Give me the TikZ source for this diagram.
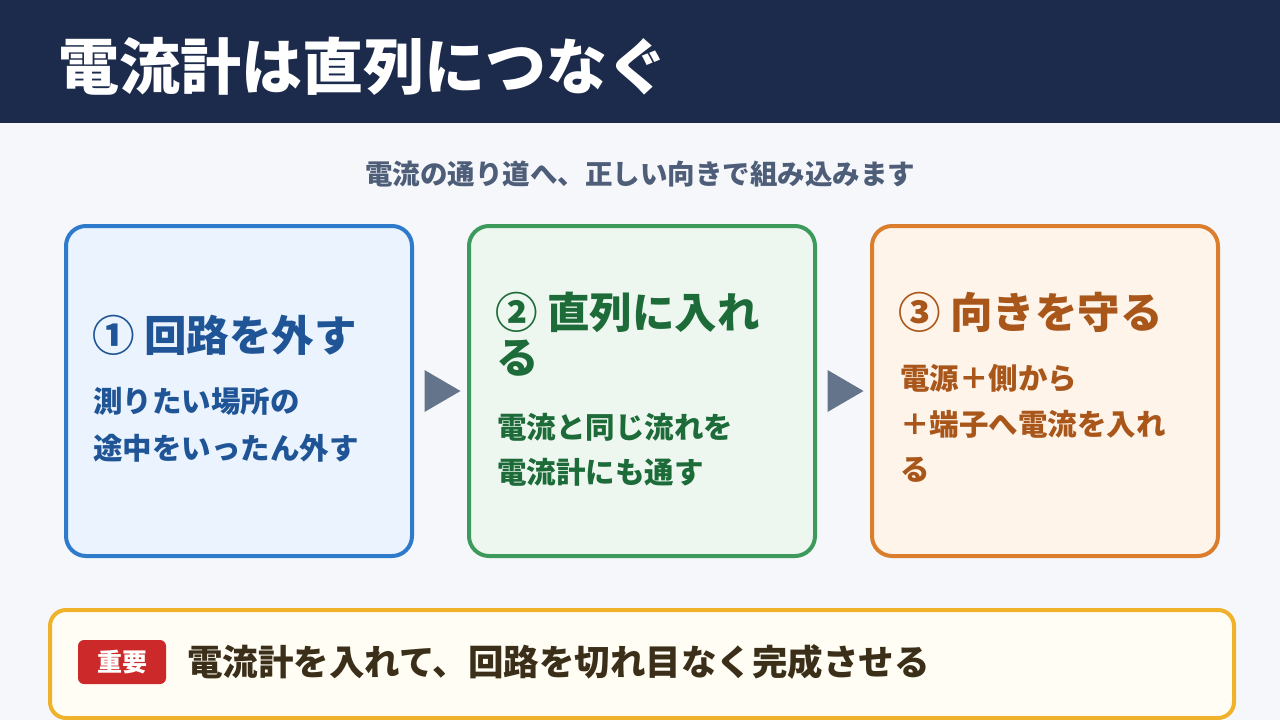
\documentclass[tikz,border=0pt]{standalone}
\usepackage{fontspec}
\setmainfont{Noto Sans CJK JP}
\usetikzlibrary{calc}
\definecolor{hdr}{HTML}{1C2B4B}
\definecolor{bgc}{HTML}{F5F7FB}
\definecolor{subc}{HTML}{4E5D78}
\definecolor{arrc}{HTML}{64748B}
\definecolor{bB}{HTML}{2E7BCB}\definecolor{bF}{HTML}{EBF3FE}\definecolor{bT}{HTML}{1F5596}
\definecolor{gB}{HTML}{3D9A5C}\definecolor{gF}{HTML}{EDF7EF}\definecolor{gT}{HTML}{1D6B39}
\definecolor{oB}{HTML}{DA7E2E}\definecolor{oF}{HTML}{FEF4E9}\definecolor{oT}{HTML}{A9561B}
\definecolor{yB}{HTML}{F0B12B}\definecolor{yF}{HTML}{FFFDF4}\definecolor{yT}{HTML}{3B2F1A}
\definecolor{redc}{HTML}{CC2A2A}
\tikzset{
  card/.style={draw=#1B, fill=#1F, line width=4pt, rounded corners=20pt,
    minimum width=346pt, minimum height=330pt, anchor=north west, inner sep=0pt},
  cardtitle/.style={text=#1T, anchor=west, inner sep=0pt, font=\fontsize{42.5}{48}\selectfont\bfseries},
  cardbody/.style={text=#1T, anchor=west, inner sep=0pt, font=\fontsize{29.5}{34}\selectfont\bfseries},
  flowtri/.style={fill=arrc},
}
\begin{document}
\begin{tikzpicture}[x=1pt,y=-1pt]
\useasboundingbox (0,0) rectangle (1280,720);
\fill[bgc] (0,0) rectangle (1280,720);
\fill[hdr] (0,0) rectangle (1280,123);
\node[anchor=west, inner sep=0pt, text=white, font=\fontsize{61}{66}\selectfont\bfseries] (title) at (58,66) {電流計は直列につなぐ};
\node[inner sep=0pt, text=subc, font=\fontsize{27.5}{32}\selectfont\bfseries] (sub) at (640,174) {電流の通り道へ、正しい向きで組み込みます};

\node[card=b] (b1) at (64,224) {};
\node[card=g] (b2) at (467,224) {};
\node[card=o] (b3) at (870,224) {};

\node[cardtitle=b] (t1) at (92,335) {① 回路を外す};
\node[cardbody=b] (l11) at (93,401) {測りたい場所の};
\node[cardbody=b] (l12) at (93,448) {途中をいったん外す};

\node[cardtitle=g] (t2a) at (495,312) {② 直列に入れ};
\node[cardtitle=g] (t2b) at (496,358) {る};
\node[cardbody=g] (l21) at (497,427) {電流と同じ流れを};
\node[cardbody=g] (l22) at (497,472) {電流計にも通す};

\node[cardtitle=o] (t3) at (898,312) {③ 向きを守る};
\node[cardbody=o] (l31) at (900,378) {電源＋側から};
\node[cardbody=o] (l32) at (900,424) {＋端子へ電流を入れ};
\node[cardbody=o] (l33) at (900,470) {る};

\coordinate (a1) at ($(b1.east)!0.5!(b2.west)$);
\coordinate (a2) at ($(b2.east)!0.5!(b3.west)$);
\fill[flowtri] ($(a1)+(-16,-21)$) -- ($(a1)+(20,0)$) -- ($(a1)+(-16,21)$) -- cycle;
\fill[flowtri] ($(a2)+(-16,-21)$) -- ($(a2)+(20,0)$) -- ($(a2)+(-16,21)$) -- cycle;

\node[draw=yB, fill=yF, line width=4pt, rounded corners=16pt, minimum width=1184pt, minimum height=108pt, anchor=north west, inner sep=0pt] (note) at (48,608) {};
\node[fill=redc, rounded corners=6pt, minimum width=88pt, minimum height=44pt, inner sep=0pt, text=white, font=\fontsize{25}{28}\selectfont\bfseries] (badge) at (122,662) {重要};
\node[anchor=west, inner sep=0pt, text=yT, font=\fontsize{35.5}{40}\selectfont\bfseries] (msg) at (187,662) {電流計を入れて、回路を切れ目なく完成させる};
\end{tikzpicture}
\end{document}
